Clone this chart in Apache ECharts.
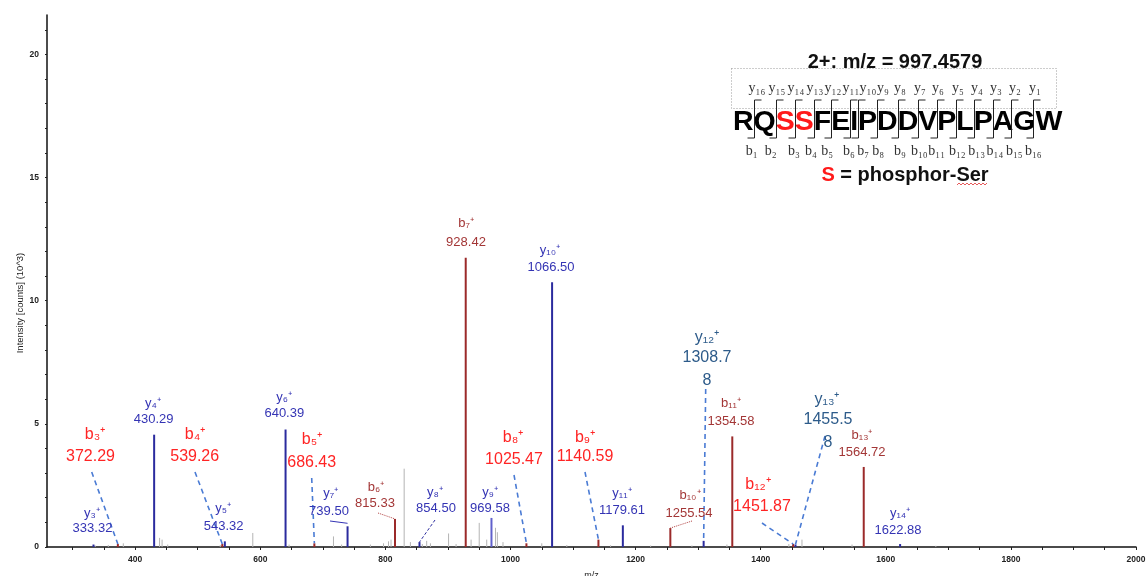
<!DOCTYPE html>
<html lang="en">
<head>
<meta charset="UTF-8">
<title>MS/MS spectrum</title>
<script src="https://cdn.jsdelivr.net/npm/echarts@6/dist/echarts.min.js"></script>
<style>
  html, body { margin: 0; padding: 0; background: #fff; }
  #box { width: 1146px; height: 576px; }
</style>
</head>
<body>
<div id="box"></div>
<script>
    // y ions (blue sticks)
    var yIonNames = ['y3', 'y4', 'y5', 'y6', 'y7', 'y8', 'y9', 'y10', 'y11', 'y12', 'y13', 'y14'];
    var yIonMz = [333.32, 430.29, 543.32, 640.39, 739.50, 854.50, 969.58, 1066.50, 1179.61, 1308.78, 1455.58, 1622.88];
    var yIonInt = [0.10, 4.56, 0.23, 4.77, 0.84, 0.20, 1.18, 10.75, 0.88, 0.25, 0.10, 0.12];

    // b ions (dark red sticks)
    var bIonNames = ['b3', 'b4', 'b5', 'b6', 'b7', 'b8', 'b9', 'b10', 'b11', 'b12', 'b13'];
    var bIonMz = [372.29, 539.26, 686.43, 815.33, 928.42, 1025.47, 1140.59, 1255.54, 1354.58, 1451.87, 1564.72];
    var bIonInt = [0.12, 0.12, 0.15, 1.14, 11.74, 0.15, 0.30, 0.77, 4.49, 0.12, 3.25];

    // unassigned peaks (grey)
    var noiseMz = [336, 357, 381, 439, 443, 452, 536, 588, 646, 717, 730, 776, 797, 805, 809, 830, 840, 859, 866, 872,
        901, 913, 937, 950, 962, 976, 979, 988, 1050, 1090, 1160, 1224, 1290, 1346, 1445, 1466, 1546, 1680];
    var noiseInt = [0.06, 0.08, 0.15, 0.37, 0.30, 0.10, 0.08, 0.57, 0.10, 0.43, 0.10, 0.10, 0.15, 0.23, 0.30, 3.18, 0.20, 0.12, 0.25, 0.15,
        0.55, 0.12, 0.30, 0.98, 0.30, 0.78, 0.60, 0.20, 0.15, 0.08, 0.07, 0.06, 0.06, 0.10, 0.12, 0.30, 0.10, 0.05];

    // axis ticks / labels
    var xLabelValues = [400, 600, 800, 1000, 1200, 1400, 1600, 1800, 2000];
    var xTickValues = [300, 350, 400, 450, 500, 550, 600, 650, 700, 750, 800, 850, 900, 950, 1000, 1050, 1100, 1150,
        1200, 1250, 1300, 1350, 1400, 1450, 1500, 1550, 1600, 1650, 1700, 1750, 1800, 1850, 1900, 1950, 2000];
    var yLabelValues = [0, 5, 10, 15, 20];
    var yTickValues = [0, 1, 2, 3, 4, 5, 6, 7, 8, 9, 10, 11, 12, 13, 14, 15, 16, 17, 18, 19, 20, 21];

    // peptide box
    var precursor = '2+: m/z = 997.4579';
    var sequence = 'RQSSFEIPDDVPLPAGW';
    var phosphoSites = [2, 3];

    // where the annotations sit (pixels)
    var labelLayout = {
        y3: {kind: 'blue', n: [92, 513], v: [92.5, 528]},
        y4: {kind: 'blue', n: [153, 403], v: [153.7, 419]},
        y5: {kind: 'blue', n: [223, 508], v: [223.7, 526]},
        y6: {kind: 'blue', n: [284, 397], v: [284.3, 413]},
        y7: {kind: 'blue', n: [330.7, 493], v: [329, 511], link: [330, 521, 'solid']},
        y8: {kind: 'blue', n: [435, 492], v: [436, 508], link: [435, 520, 'dash']},
        y9: {kind: 'blue', n: [490, 492], v: [490, 508]},
        y10: {kind: 'blue', n: [550, 250], v: [551, 267]},
        y11: {kind: 'blue', n: [622, 493], v: [622, 510]},
        y12: {kind: 'steel', n: [707, 338], v: [707, 358], v2: [707, 381], lead: [705.7, 389]},
        y13: {kind: 'steel', n: [827, 400], v: [828, 420], v2: [828, 443], lead: [825, 436]},
        y14: {kind: 'blue', n: [900, 513], v: [898, 530]},
        b3: {kind: 'red', n: [95, 435], v: [90.5, 457], lead: [91.7, 472]},
        b4: {kind: 'red', n: [195, 435], v: [194.7, 457], lead: [195, 472]},
        b5: {kind: 'red', n: [312, 440], v: [311.7, 463], lead: [311.7, 478]},
        b6: {kind: 'brown', n: [376, 487], v: [375, 503], link: [378, 513, 'dot']},
        b7: {kind: 'brown', n: [466, 223], v: [466, 242]},
        b8: {kind: 'red', n: [513, 438], v: [514, 460], lead: [514, 475]},
        b9: {kind: 'red', n: [585, 438], v: [585, 457], lead: [585, 472]},
        b10: {kind: 'brown', n: [690, 495], v: [689, 513], link: [692, 521, 'dot']},
        b11: {kind: 'brown', n: [731, 403], v: [731, 421]},
        b12: {kind: 'red', n: [758, 485], v: [762, 507], lead: [762, 523]},
        b13: {kind: 'brown', n: [862, 435], v: [862, 452]}
    };
    var kindStyle = {
        blue: {color: '#3434b4', font: '13px "Liberation Sans"'},
        brown: {color: '#a33636', font: '13px "Liberation Sans"'},
        red: {color: '#ff2424', font: '16px "Liberation Sans"'},
        steel: {color: '#2d5b8a', font: '16px "Liberation Sans"'}
    };
    var yRowX = [757, 777, 796, 815, 833, 851, 868, 883, 900, 920, 938, 958, 977, 996, 1015, 1035];
    var bRowX = [751.7, 770.7, 794, 811, 827.3, 849, 863.3, 878.3, 900, 919.3, 936.7, 957.3, 976.7, 995, 1014.3, 1033.3];

    var FONT = '"Liberation Sans", Arial, sans-serif';
    var subDigits = '₀₁₂₃₄₅₆₇₈₉';

    function subscript(s) {
        return s.replace(/[0-9]/g, function (d) { return subDigits[+d]; });
    }

    function ionLabel(name) {
        return name.charAt(0) + subscript(name.slice(1)) + '⁺';
    }

    function stickRender(color, width, pick) {
        return function (params, api) {
            var p0 = api.coord([api.value(0), 0]);
            var p1 = api.coord([api.value(0), api.value(1)]);
            return {
                type: 'line',
                shape: {x1: p0[0], y1: p0[1], x2: p1[0], y2: p1[1]},
                style: {stroke: pick ? pick(params.dataIndex) : color, lineWidth: width}
            };
        };
    }

    function pairs(xs, ys) {
        return xs.map(function (x, i) { return [x, ys[i]]; });
    }

    var myChart = echarts.init(document.getElementById('box'));
    var option = {
        animation: false,
        grid: {left: 47, right: 10, top: 15, bottom: 29, outerBoundsMode: 'none'},
        xAxis: {
            type: 'value',
            min: 259,
            max: 2000,
            name: 'm/z',
            nameLocation: 'middle',
            nameGap: 24,
            nameTextStyle: {fontSize: 9, color: '#222', fontFamily: 'Liberation Sans'},
            splitLine: {show: false},
            axisLine: {lineStyle: {color: '#111', width: 1.5}},
            axisTick: {length: 3, customValues: xTickValues, lineStyle: {color: '#222'}},
            axisLabel: {
                customValues: xLabelValues, margin: 8, fontSize: 8.5, fontWeight: 'bold',
                color: '#222', fontFamily: 'Liberation Sans',
                formatter: function (v) { return String(v); }
            }
        },
        yAxis: {
            type: 'value',
            min: 0,
            max: 21.6,
            splitLine: {show: false},
            axisLine: {show: true, lineStyle: {color: '#111', width: 1.5}},
            axisTick: {show: true, length: 2, customValues: yTickValues, lineStyle: {color: '#222'}},
            axisLabel: {
                customValues: yLabelValues, margin: 8, fontSize: 8.5, fontWeight: 'bold',
                color: '#222', fontFamily: 'Liberation Sans',
                formatter: function (v) { return String(v); }
            }
        },
        series: [
            {
                name: 'noise',
                type: 'custom',
                renderItem: stickRender('#b4b4b4', 1),
                encode: {x: 0, y: 1},
                data: pairs(noiseMz, noiseInt),
                z: 1
            },
            {
                name: 'y ions',
                type: 'custom',
                renderItem: stickRender('#2b2b9e', 2, function (i) {
                    return yIonNames[i] === 'y9' ? '#6060cc' : '#2b2b9e';
                }),
                encode: {x: 0, y: 1},
                data: pairs(yIonMz, yIonInt),
                z: 3
            },
            {
                name: 'b ions',
                type: 'custom',
                renderItem: stickRender('#9b2a2a', 2),
                encode: {x: 0, y: 1},
                data: pairs(bIonMz, bIonInt),
                z: 3
            }
        ]
    };
    myChart.setOption(option);

    // annotations, leader lines and the peptide box
    function buildGraphics() {
        var g = [];
        function text(x, y, str, color, font, extra) {
            var el = {
                type: 'text', x: x, y: y, silent: true, z: 10,
                style: {text: str, fill: color, font: font, align: 'center', verticalAlign: 'middle'}
            };
            if (extra) { for (var k in extra) { el[k] = extra[k]; } }
            g.push(el);
        }
        function line(x1, y1, x2, y2, color, w, dash) {
            g.push({
                type: 'line', silent: true, z: 9,
                shape: {x1: x1, y1: y1, x2: x2, y2: y2},
                style: {stroke: color, lineWidth: w, lineDash: dash || null}
            });
        }

        // y-axis title
        text(20, 303, 'Intensity [counts] (10^3)', '#222', '9.5px ' + FONT, {rotation: Math.PI / 2});

        var ions = [];
        yIonNames.forEach(function (n, i) { ions.push([n, yIonMz[i], yIonInt[i]]); });
        bIonNames.forEach(function (n, i) { ions.push([n, bIonMz[i], bIonInt[i]]); });

        ions.forEach(function (ion) {
            var lay = labelLayout[ion[0]];
            if (!lay) return;
            var st = kindStyle[lay.kind];
            var val = ion[1].toFixed(2);
            text(lay.n[0], lay.n[1], ionLabel(ion[0]), st.color, st.font + ', sans-serif');
            if (lay.v2) {
                text(lay.v[0], lay.v[1], val.slice(0, -1), st.color, st.font);
                text(lay.v2[0], lay.v2[1], val.slice(-1), st.color, st.font);
            } else {
                text(lay.v[0], lay.v[1], val, st.color, st.font);
            }
            var top = myChart.convertToPixel({gridIndex: 0}, [ion[1], ion[2]]);
            if (lay.lead) {
                line(lay.lead[0], lay.lead[1], top[0], top[1], '#4a7bd4', 1.6, [5, 4]);
            }
            if (lay.link) {
                if (lay.link[2] === 'solid') {
                    line(lay.link[0], lay.link[1], top[0], top[1] - 3, '#3434b4', 1);
                } else if (lay.link[2] === 'dash') {
                    line(lay.link[0], lay.link[1], top[0], top[1], '#2b2b9e', 1, [3, 2]);
                } else {
                    line(lay.link[0], lay.link[1], top[0], top[1], '#b04040', 1, [1, 1]);
                }
            }
        });

        // peptide box
        text(895, 62, precursor, '#111', 'bold 20px ' + FONT);
        g.push({
            type: 'rect', silent: true, z: 8,
            shape: {x: 731.5, y: 68.5, width: 325, height: 40},
            style: {fill: null, stroke: '#9a9a9a', lineWidth: 1, lineDash: [1, 2]}
        });

        var seqFont = 'bold 28.5px ' + FONT;
        var ctx = document.createElement('canvas').getContext('2d');
        ctx.font = seqFont;
        var seqLeft = 733;
        var rich = '';
        for (var i = 0; i < sequence.length; i++) {
            rich += (phosphoSites.indexOf(i) >= 0 ? '{r|' : '{k|') + sequence.charAt(i) + '}';
        }
        g.push({
            type: 'text', x: seqLeft, y: 122, silent: true, z: 10,
            style: {
                text: rich, font: seqFont, fill: '#000', align: 'left', verticalAlign: 'middle',
                rich: {
                    k: {fill: '#000', font: seqFont},
                    r: {fill: '#ff1a1a', font: seqFont}
                }
            }
        });

        // cleavage brackets between residues
        for (var j = 1; j < sequence.length; j++) {
            var bx = Math.round(seqLeft + ctx.measureText(sequence.slice(0, j)).width) + 0.5;
            g.push({
                type: 'polyline', silent: true, z: 11,
                shape: {points: [[bx + 7, 100], [bx, 100], [bx, 138], [bx - 7, 138]]},
                style: {stroke: '#222', lineWidth: 1, fill: null}
            });
            var yn = sequence.length - j;
            text(yRowX[j - 1], 88, 'y' + subscript(String(yn)), '#333', '14px "Liberation Serif", serif');
            text(bRowX[j - 1], 151, 'b' + subscript(String(j)), '#333', '14px "Liberation Serif", serif');
        }

        g.push({
            type: 'text', x: 905, y: 175, silent: true, z: 10,
            style: {
                text: '{r|S}{k| = phosphor-Ser}', align: 'center', verticalAlign: 'middle',
                font: 'bold 20px ' + FONT,
                rich: {
                    r: {fill: '#ff1a1a', font: 'bold 20px ' + FONT},
                    k: {fill: '#111', font: 'bold 20px ' + FONT}
                }
            }
        });
        // spell-check squiggle under "Ser"
        var pts = [];
        for (var s = 0; s <= 15; s++) { pts.push([957 + s * 2, s % 2 ? 183 : 185]); }
        g.push({type: 'polyline', silent: true, z: 10, shape: {points: pts}, style: {stroke: '#e03030', lineWidth: 0.8, fill: null}});

        return g;
    }

    myChart.setOption({graphic: buildGraphics()});
</script>
</body>
</html>
